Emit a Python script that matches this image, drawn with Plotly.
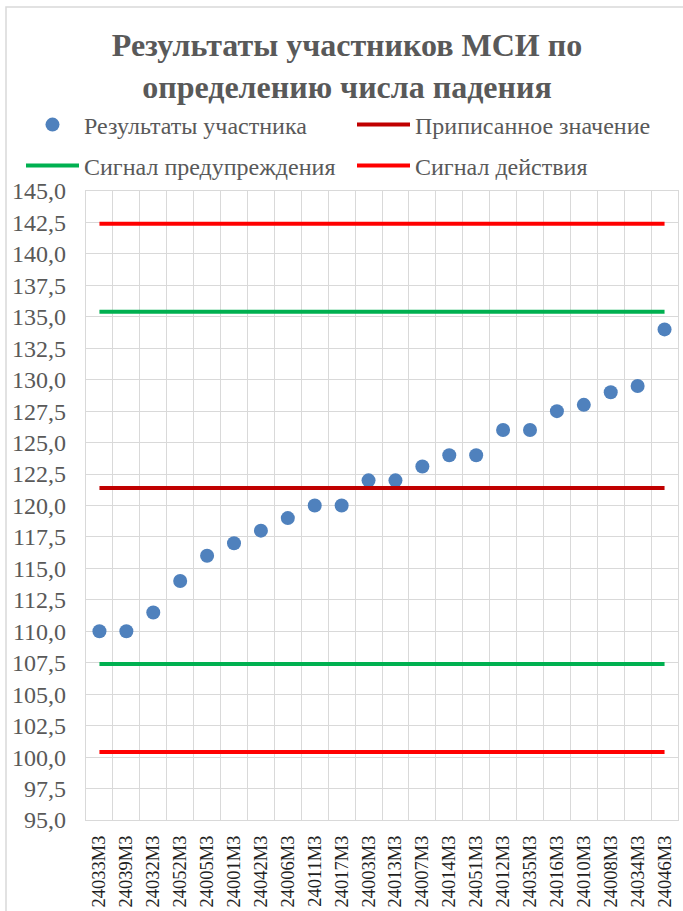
import plotly.graph_objects as go

# Participant codes (in ranked order) and their results
participants = [
    "24033МЗ", "24039МЗ", "24032МЗ", "24052МЗ", "24005МЗ", "24001МЗ",
    "24042МЗ", "24006МЗ", "24011МЗ", "24017МЗ", "24003МЗ", "24013МЗ",
    "24007МЗ", "24014МЗ", "24051МЗ", "24012МЗ", "24035МЗ", "24016МЗ",
    "24010МЗ", "24008МЗ", "24034МЗ", "24046МЗ",
]
results = [
    110.0, 110.0, 111.5, 114.0, 116.0, 117.0, 118.0, 119.0, 120.0, 120.0,
    122.0, 122.0, 123.1, 124.0, 124.0, 126.0, 126.0, 127.5, 128.0, 129.0,
    129.5, 134.0,
]

# Control limits
assigned_value = 121.4
warning_upper = 135.4
warning_lower = 107.4
action_upper = 142.4
action_lower = 100.4

y_ticks = [95.0 + 2.5 * i for i in range(21)]

FONT = "Liberation Serif"
GREY = "#595959"

fig = go.Figure()

fig.add_trace(go.Scatter(
    x=participants, y=results, mode="markers",
    name="Результаты участника",
    marker=dict(color="#4f81bd", size=14),
    legend="legend",
))
fig.add_trace(go.Scatter(
    x=participants, y=[assigned_value] * len(participants), mode="lines",
    name="Приписанное значение",
    line=dict(color="#c00000", width=4),
    legend="legend",
))
fig.add_trace(go.Scatter(
    x=participants, y=[warning_upper] * len(participants), mode="lines",
    name="Сигнал предупреждения", legendgroup="warn",
    line=dict(color="#00b050", width=4),
    legend="legend2",
))
fig.add_trace(go.Scatter(
    x=participants, y=[warning_lower] * len(participants), mode="lines",
    name="Сигнал предупреждения", legendgroup="warn", showlegend=False,
    line=dict(color="#00b050", width=4),
    legend="legend2",
))
fig.add_trace(go.Scatter(
    x=participants, y=[action_upper] * len(participants), mode="lines",
    name="Сигнал действия", legendgroup="act",
    line=dict(color="#ff0000", width=4),
    legend="legend2",
))
fig.add_trace(go.Scatter(
    x=participants, y=[action_lower] * len(participants), mode="lines",
    name="Сигнал действия", legendgroup="act", showlegend=False,
    line=dict(color="#ff0000", width=4),
    legend="legend2",
))

W, H = 683, 911
L, R, T, B = 86, 5, 191, 91
pw, ph = W - L - R, H - T - B


def px_x(p):
    return (p - L) / pw


def px_y(p):
    return 1 + (T - p) / ph


legend_common = dict(
    orientation="h", xanchor="left", yanchor="middle",
    font=dict(family=FONT, size=24, color=GREY),
    bgcolor="rgba(0,0,0,0)", entrywidth=263, entrywidthmode="pixels",
    itemwidth=53, traceorder="normal",
)

fig.update_layout(
    width=W, height=H,
    margin=dict(l=L, r=R, t=T, b=B),
    paper_bgcolor="white", plot_bgcolor="white",
    separators=", ",
    font=dict(family=FONT, color=GREY),
    title=dict(
        text="Результаты участников МСИ по<br>определению числа падения",
        font=dict(family=FONT, size=32, color=GREY, weight="bold"),
        x=0.508, xanchor="center", xref="container",
        y=1 - 56 / H, yanchor="top", yref="container",
    ),
    legend=dict(x=px_x(38), y=px_y(125), **legend_common),
    legend2=dict(x=px_x(38), y=px_y(166), **legend_common),
    xaxis=dict(
        type="category", range=[-0.5, len(participants) - 0.5],
        tickson="boundaries", showgrid=True, gridcolor="#d9d9d9", gridwidth=1.2,
        showline=True, linecolor="#d9d9d9", linewidth=1.2, mirror=True,
        ticks="", tickangle=-90, ticklabelstandoff=7,
        tickfont=dict(family=FONT, size=18.5, color="#1f1f1f"),
        zeroline=False,
    ),
    yaxis=dict(
        range=[95, 145], tickvals=y_ticks, tickformat=".1f",
        showgrid=True, gridcolor="#d9d9d9", gridwidth=1.2,
        showline=True, linecolor="#d9d9d9", linewidth=1.2, mirror=True,
        ticks="", ticklabelstandoff=14,
        tickfont=dict(family=FONT, size=24, color=GREY),
        zeroline=False,
    ),
    shapes=[dict(
        type="rect", xref="paper", yref="paper",
        x0=px_x(6), x1=px_x(W + 10), y0=px_y(H + 10), y1=px_y(7),
        line=dict(color="#d9d9d9", width=1.5), fillcolor="rgba(0,0,0,0)",
        layer="below",
    )],
)

fig.write_html("out.html")
